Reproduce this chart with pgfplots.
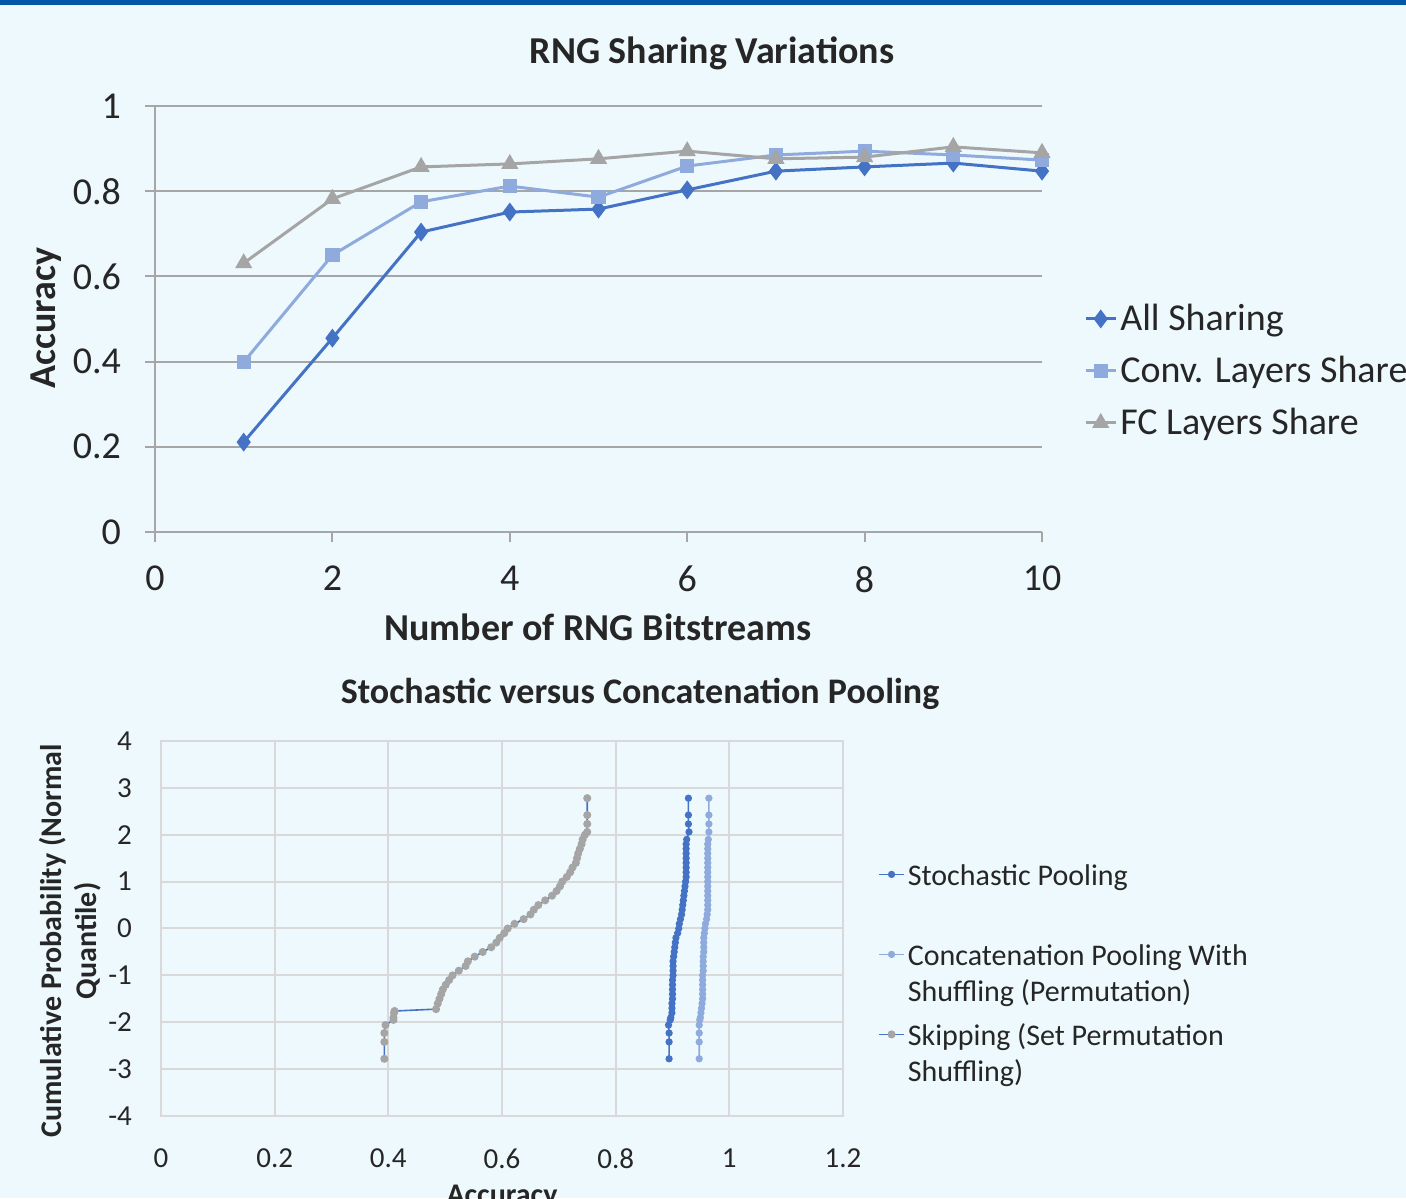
\documentclass[border=0pt]{standalone}
\usepackage{fontspec}
\setmainfont{Carlito}
\usepackage{pgfplots}
\pgfplotsset{compat=1.18}
\definecolor{bg}{HTML}{EEF9FD}
\definecolor{topbar}{HTML}{0057A8}
\definecolor{s1}{HTML}{4472C4}
\definecolor{s2}{HTML}{8FAADC}
\definecolor{s3}{HTML}{A5A5A5}
\definecolor{gridc}{HTML}{A6A6A6}
\definecolor{lgrid}{HTML}{D9D9D9}
\definecolor{txt}{HTML}{262626}

\begin{document}
\begin{tikzpicture}
% 1 px of the reference = 0.5pt; page is 1406 x 1198 px
\path[use as bounding box, clip] (0pt,0pt) rectangle (703pt,599pt);
\fill[bg] (0pt,0pt) rectangle (703pt,599pt);
\fill[topbar] (0pt,596.5pt) rectangle (703pt,599pt);

% ---- top chart ----
\begin{axis}[
  at={(77.5pt,333pt)}, anchor=south west, scale only axis,
  width=443.5pt, height=213pt,
  xmin=0, xmax=10, ymin=0, ymax=1,
  xtick={0,2,4,6,8,10}, ytick={0,0.2,0.4,0.6,0.8,1},
  axis lines*=left,
  axis line style={gridc, line width=1pt},
  tick style={gridc, line width=1pt},
  tick align=outside, major tick length=5pt,
  ymajorgrids, grid style={gridc, line width=1pt},
  /pgf/number format/assume math mode=true,
  ticklabel style={font=\fontsize{19}{21}\selectfont, text=txt},
  yticklabel style={xshift=-8.5pt},
  xticklabel style={yshift=-8.5pt},
  legend style={at={(1.0404,0.378)}, anchor=west, draw=none, fill=none,
    font=\fontsize{19}{21}\selectfont, text=txt, row sep=0pt,
    nodes={minimum height=26pt, inner ysep=0pt, inner xsep=1.5pt}},
  legend cell align=left,
  legend image code/.code={\draw[mark repeat=2,mark phase=2,#1] plot coordinates {(0pt,0pt) (7.5pt,0pt) (15pt,0pt)};},
]
\addplot[s1, line width=1.5pt, mark=diamond*, mark size=3.5pt] coordinates {
 (1,0.211) (2,0.455) (3,0.704) (4,0.751) (5,0.758) (6,0.803) (7,0.847) (8,0.857) (9,0.866) (10,0.847)};
\addlegendentry{All Sharing}
\addplot[s2, line width=1.5pt, mark=square*, mark size=2.8pt] coordinates {
 (1,0.399) (2,0.650) (3,0.775) (4,0.812) (5,0.786) (6,0.859) (7,0.885) (8,0.894) (9,0.885) (10,0.873)};
\addlegendentry{Conv. Layers Share}
\addplot[s3, line width=1.5pt, mark=triangle*, mark size=3.5pt] coordinates {
 (1,0.631) (2,0.782) (3,0.857) (4,0.864) (5,0.876) (6,0.894) (7,0.876) (8,0.880) (9,0.904) (10,0.890)};
\addlegendentry{FC Layers Share}
\end{axis}

% ---- bottom chart ----
\begin{axis}[
  at={(80.5pt,41pt)}, anchor=south west, scale only axis,
  width=341pt, height=187.5pt,
  xmin=0, xmax=1.2, ymin=-4, ymax=4,
  xtick={0,0.2,0.4,0.6,0.8,1,1.2}, ytick={-4,-3,-2,-1,0,1,2,3,4},
  axis line style={lgrid, line width=1pt},
  major tick length=0pt,
  grid=major, grid style={lgrid, line width=1pt},
  /pgf/number format/assume math mode=true,
  ticklabel style={font=\fontsize{14.5}{16}\selectfont, text=txt},
  yticklabel style={xshift=-11pt},
  xticklabel style={yshift=-13pt},
  legend style={at={(1.0423,0.384)}, anchor=west, draw=none, fill=none,
    font=\fontsize{15}{18}\selectfont, text=txt, row sep=0pt,
    nodes={minimum height=40pt, inner ysep=0pt, inner xsep=1.5pt, align=left}},
  legend cell align=left,
  legend image code/.code={\draw[mark repeat=2,mark phase=2,#1] plot coordinates {(0pt,8.8pt) (6.25pt,8.8pt) (12.5pt,8.8pt)};},
]
\addplot[s1, line width=0.8pt, mark=*, mark size=1.4pt] coordinates {
 (0.894,-2.78) (0.894,-2.42) (0.894,-2.23) (0.893,-2.06) (0.896,-1.95) (0.897,-1.9) (0.899,-1.8) (0.899,-1.7)
 (0.899,-1.6) (0.900,-1.5) (0.900,-1.4) (0.900,-1.3) (0.900,-1.2) (0.900,-1.1) (0.901,-1.0) (0.901,-0.9)
 (0.901,-0.8) (0.901,-0.7) (0.902,-0.6) (0.903,-0.5) (0.904,-0.4) (0.905,-0.3) (0.906,-0.2) (0.909,-0.1)
 (0.911,0.0) (0.912,0.1) (0.914,0.2) (0.916,0.3) (0.917,0.4) (0.918,0.5) (0.919,0.6) (0.920,0.7)
 (0.921,0.8) (0.922,0.9) (0.923,1.0) (0.924,1.1) (0.924,1.2) (0.924,1.3) (0.924,1.4) (0.924,1.5)
 (0.924,1.6) (0.924,1.7) (0.924,1.8) (0.925,1.9) (0.929,2.06) (0.928,2.23) (0.928,2.42) (0.928,2.78)};
\addlegendentry{Stochastic Pooling\strut\\\strut}
\addplot[s2, line width=0.8pt, mark=*, mark size=1.4pt] coordinates {
 (0.947,-2.78) (0.947,-2.42) (0.947,-2.23) (0.947,-2.06) (0.948,-1.95) (0.949,-1.9) (0.950,-1.8) (0.951,-1.7)
 (0.952,-1.6) (0.953,-1.5) (0.953,-1.4) (0.953,-1.3) (0.953,-1.2) (0.953,-1.1) (0.953,-1.0) (0.954,-0.9)
 (0.954,-0.8) (0.954,-0.7) (0.954,-0.6) (0.955,-0.5) (0.955,-0.4) (0.955,-0.3) (0.955,-0.2) (0.956,-0.1)
 (0.957,0.0) (0.958,0.1) (0.960,0.2) (0.961,0.3) (0.962,0.4) (0.962,0.5) (0.962,0.6) (0.962,0.7)
 (0.962,0.8) (0.962,0.9) (0.962,1.0) (0.962,1.1) (0.962,1.2) (0.962,1.3) (0.962,1.4) (0.962,1.5)
 (0.962,1.6) (0.962,1.7) (0.962,1.8) (0.963,1.9) (0.964,2.06) (0.964,2.23) (0.964,2.42) (0.964,2.78)};
\addlegendentry{Concatenation Pooling With\strut\\Shuffling (Permutation)\strut}
\addplot[s1, line width=0.8pt, mark=*, mark size=1.6pt, mark options={draw=s3, fill=s3}] coordinates {
 (0.393,-2.78) (0.393,-2.42) (0.393,-2.23) (0.395,-2.06) (0.409,-1.95) (0.409,-1.9) (0.410,-1.8) (0.411,-1.76)
 (0.484,-1.72) (0.487,-1.6) (0.490,-1.5) (0.493,-1.4) (0.496,-1.3) (0.501,-1.2) (0.507,-1.1) (0.513,-1.0)
 (0.524,-0.9) (0.536,-0.8) (0.540,-0.7) (0.552,-0.6) (0.566,-0.5) (0.581,-0.4) (0.590,-0.3) (0.596,-0.2)
 (0.604,-0.1) (0.610,0.0) (0.622,0.1) (0.638,0.2) (0.650,0.3) (0.656,0.4) (0.664,0.5) (0.676,0.6)
 (0.688,0.7) (0.696,0.8) (0.702,0.9) (0.706,1.0) (0.714,1.1) (0.720,1.2) (0.724,1.3) (0.730,1.4)
 (0.732,1.5) (0.734,1.6) (0.737,1.7) (0.740,1.8) (0.742,1.9) (0.746,2.0) (0.750,2.06) (0.750,2.23)
 (0.750,2.42) (0.750,2.78)};
\addlegendentry{Skipping (Set Permutation\strut\\Shuffling)\strut}
\end{axis}

% ---- titles and axis labels ----
\begin{scope}[x=0.5pt,y=0.5pt]
\node[font=\bfseries\fontsize{19}{22}\selectfont, text=txt] at (712,1145) {RNG Sharing Variations};
\node[font=\bfseries\fontsize{19}{22}\selectfont, text=txt] at (598,571) {Number of RNG Bitstreams};
\node[font=\bfseries\fontsize{19}{22}\selectfont, text=txt, rotate=90] at (46,880) {Accuracy};
\node[font=\bfseries\fontsize{18}{22}\selectfont, text=txt] at (640,504) {Stochastic versus Concatenation Pooling};
\node[font=\bfseries\fontsize{15}{17.5}\selectfont, text=txt, rotate=90, align=center] at (70,257) {Cumulative Probability (Normal\\Quantile)};
\node[font=\bfseries\fontsize{15}{17.5}\selectfont, text=txt, anchor=base] at (502,-6) {Accuracy};
\end{scope}
\end{tikzpicture}
\end{document}
